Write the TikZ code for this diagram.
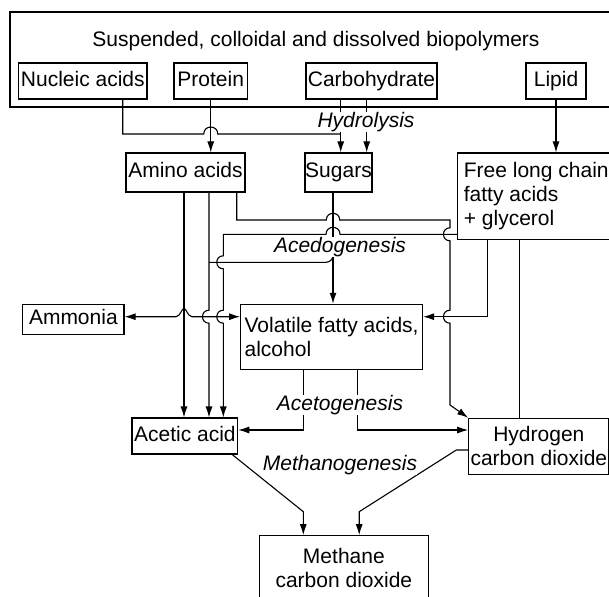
\documentclass[tikz,border=0pt]{standalone}
\usepackage{fontspec}
\setmainfont{Liberation Sans}
\usetikzlibrary{arrows.meta}
\begin{document}
\begin{tikzpicture}[x=1pt,y=-1pt,
  line width=1.1pt,
  >={Latex[length=11pt,width=7pt]},
  every node/.style={font=\fontsize{21pt}{24pt}\selectfont},
  box/.style={draw, line width=1.1pt, inner sep=0pt},
  oneline/.style={box, text height=15.3pt, text depth=4.4pt},
  stage/.style={fill=white, inner sep=0pt, text height=15.3pt, text depth=4.4pt,
    font=\fontsize{21pt}{24pt}\selectfont\itshape},
]
\useasboundingbox (0,0) rectangle (609,596);
\clip (0,0) rectangle (609,596);

% ---- source material ----
\node[box, minimum width=620pt, minimum height=95pt] (outer) at (320,59.5) {};
\node[anchor=base] (title) at (316,47) {Suspended, colloidal and dissolved biopolymers};
\node[oneline, minimum width=128.4pt, minimum height=36pt] (nucleic) at (82.8,81) {Nucleic acids};
\node[oneline, minimum width=73.5pt, minimum height=36pt] (protein) at (210.75,81) {Protein};
\node[oneline, minimum width=131pt, minimum height=36pt] (carbo) at (371.5,81) {Carbohydrate};
\node[oneline, minimum width=60pt, minimum height=36pt] (lipid) at (556,81) {Lipid};

% ---- intermediates and products ----
\node[oneline, minimum width=119pt, minimum height=39pt] (amino) at (185.5,172.5) {Amino acids};
\node[oneline, minimum width=67pt, minimum height=39pt] (sugars) at (338.5,172.5) {Sugars};
\node[box, minimum width=157.5pt, minimum height=86.5pt, align=left] (free) at (536.25,196.25)
  {Free long chain\\fatty acids\\+ glycerol};
\node[oneline, minimum width=101.3pt, minimum height=30pt] (ammonia) at (73.35,319.3) {Ammonia};
\node[box, minimum width=181.8pt, minimum height=65pt, align=left] (vfa) at (331.6,336.8)
  {Volatile fatty acids,\\alcohol};
\node[oneline, minimum width=105.7pt, minimum height=36pt] (acetic) at (184.85,436) {Acetic acid};
\node[box, minimum width=140.3pt, minimum height=56pt, align=center] (hydrogen) at (538.85,446.3)
  {Hydrogen\\carbon dioxide};
\node[box, minimum width=168.9pt, minimum height=64.3pt, align=center] (methane) at (343.85,567.85)
  {Methane\\carbon dioxide};

% ---- hydrolysis ----
\draw (122.7,0 |- nucleic.south) -- (122.7,134) -- (203.75,134)
  .. controls (203.75,124.7) and (217.75,124.7) .. (217.75,134) -- (340.7,134);
\draw[->] (protein.south) -- (protein.south |- amino.north);
\draw[->] (340.7,0 |- carbo.south) -- (340.7,0 |- sugars.north);
\draw[->] (366.7,0 |- carbo.south) -- (366.7,0 |- sugars.north);
\draw[->] (lipid.south) -- (lipid.south |- free.north);

% ---- amino acids ----
\draw[->] (184,0 |- amino.south) -- (184,0 |- acetic.north);
\draw[->] (209,0 |- amino.south) -- (209,310.2)
  .. controls (200.3,310.2) and (200.3,323.2) .. (209,323.2) -- (209,0 |- acetic.north);
\draw[->] (236.7,0 |- amino.south) -- (236.7,220) -- (326.3,220)
  .. controls (326.3,211.1) and (339.7,211.1) .. (339.7,220) -- (450,220) -- (450,227.8)
  .. controls (441.3,227.8) and (441.3,240.8) .. (450,240.8) -- (450,310.2)
  .. controls (441.3,310.2) and (441.3,323.2) .. (450,323.2) -- (450,405) -- (hydrogen.north west);

% ---- sugars ----
\draw[->] (333,0 |- sugars.south) -- (333,0 |- vfa.north);
\draw[rounded corners=7pt] (333,0 |- sugars.south) -- (333,262.3) -- (209,262.3);

% ---- long chain fatty acids ----
\draw[->] (free.west |- 0,234.3) -- (340,234.3)
  .. controls (340,225) and (326,225) .. (326,234.3) -- (223.3,234.3) -- (223.3,255.8)
  .. controls (214.6,255.8) and (214.6,268.8) .. (223.3,268.8) -- (223.3,310.2)
  .. controls (214.6,310.2) and (214.6,323.2) .. (223.3,323.2) -- (223.3,0 |- acetic.north);
\draw[->] (487.3,0 |- free.south) -- (487.3,316.7) -- (vfa.east |- 0,316.7);
\draw (519.5,0 |- free.south) -- (519.5,0 |- hydrogen.north);

% ---- ammonia ----
\draw[<->] (ammonia.east |- 0,316.7) -- (176,316.7)
  .. controls (180,316.7) and (182,308.3) .. (184,308.3)
  .. controls (186,308.3) and (188,316.7) .. (192,316.7) -- (vfa.west |- 0,316.7);

% ---- acetogenesis ----
\draw[->] (303.3,0 |- vfa.south) -- (303.3,430) -- (acetic.east |- 0,430);
\draw[->] (357.7,0 |- vfa.south) -- (357.7,430) -- (hydrogen.west |- 0,430);

% ---- methanogenesis ----
\draw[->] (232.2,0 |- acetic.south) -- (303.3,511.7) -- (303.3,0 |- methane.north);
\draw[->] (hydrogen.west |- 0,450) -- (456.3,450) -- (359.2,511.7) -- (359.2,0 |- methane.north);

% ---- stage labels ----
\node[stage] (hydrolysis) at (366,121.7) {Hydrolysis};
\node[stage] (acedo) at (340,246.7) {Acedogenesis};
\node[stage] (aceto) at (340,405) {Acetogenesis};
\node[stage] (methano) at (340,465) {Methanogenesis};
\end{tikzpicture}
\end{document}
